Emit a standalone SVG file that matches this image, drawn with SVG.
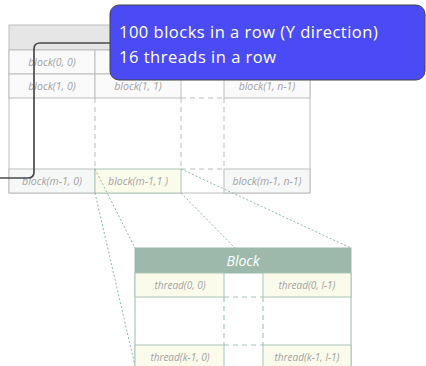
<svg xmlns="http://www.w3.org/2000/svg" width="426" height="366" viewBox="0 0 426 366">
<style>
.g{fill:#fafafa;stroke:#bdbdbd;stroke-width:1}
.gl{stroke:#bdbdbd;stroke-width:1;fill:none}
.gd{stroke:#bdbdbd;stroke-width:1;stroke-dasharray:5,4;fill:none}
.gm{fill:#f6f8f8;stroke:#bdbdbd;stroke-width:1}
.y{fill:#fbfbec;stroke:#a9c6b8;stroke-width:1}
.bl{stroke:#a9c6b8;stroke-width:1.2;fill:none}
.bd{stroke:#a9c6b8;stroke-width:1.2;stroke-dasharray:5,4;fill:none}
.dot{stroke:#8db8ac;stroke-width:1;stroke-dasharray:2,2;fill:none}
.t{font-family:"Open Sans","Liberation Sans",sans-serif;font-style:italic;font-size:10.5px;fill:#a3a3a3;text-anchor:middle}
.th{font-size:10px}
.c{font-family:"Open Sans","Liberation Sans",sans-serif;font-size:16.5px;letter-spacing:0.5px;fill:#ffffff}
</style>
<g id="grid">
<rect x="9" y="25" width="301" height="25" fill="#e6e6e6" stroke="#bdbdbd"/>
<line class="gl" x1="9" y1="50" x2="9" y2="193"/>
<line class="gl" x1="310" y1="50" x2="310" y2="193"/>
<line class="gl" x1="9" y1="193" x2="310" y2="193"/>
<rect class="g" x="9" y="50" width="86" height="24"/>
<rect class="g" x="95" y="50" width="86" height="24"/>
<rect class="g" x="224" y="50" width="86" height="24"/>
<rect class="g" x="9" y="74" width="86" height="24"/>
<rect class="g" x="95" y="74" width="86" height="24"/>
<rect class="g" x="224" y="74" width="86" height="24"/>
<line class="gd" x1="95" y1="98" x2="95" y2="169"/>
<line class="gd" x1="181" y1="98" x2="181" y2="169"/>
<line class="gd" x1="224" y1="98" x2="224" y2="169"/>
<line class="gd" x1="181" y1="98" x2="224" y2="98"/>
<line class="gd" x1="181" y1="169" x2="224" y2="169"/>
<rect class="gm" x="9" y="169" width="86" height="24"/>
<rect class="gm" x="224" y="169" width="86" height="24"/>
<text class="t" x="52" y="66">block(0, 0)</text>
<text class="t" x="52" y="90">block(1, 0)</text>
<text class="t" x="138" y="90">block(1, 1)</text>
<text class="t" x="267" y="90">block(1, n-1)</text>
<text class="t" x="52" y="185">block(m-1, 0)</text>
<text class="t" x="267" y="185">block(m-1, n-1)</text>
</g>
<g id="block-m1-1">
<rect class="y" x="95" y="169" width="86" height="24"/>
<text class="t" x="138" y="185">block(m-1,1 )</text>
</g>
<g id="connectors">
<line class="dot" x1="95" y1="169" x2="135" y2="248"/>
<line class="dot" x1="181" y1="169" x2="351" y2="248"/>
<line class="dot" x1="95" y1="193" x2="135" y2="366"/>
<line class="dot" x1="181" y1="193" x2="351" y2="366"/>
<path d="M110,43 H40 Q34,43 34,49 V172 Q34,178 28,178 H0" fill="none" stroke="#4a4a4a" stroke-width="1.7"/>
</g>
<g id="block">
<rect x="135" y="248" width="216" height="130" fill="#ffffff" stroke="none"/>
<rect x="135" y="248" width="216" height="25" fill="#9cb9ab" stroke="#9cb9ab"/>
<text x="243" y="266" font-family="Open Sans, Liberation Sans, sans-serif" font-style="italic" font-size="14" fill="#ffffff" text-anchor="middle">Block</text>
<line class="bl" x1="135" y1="273" x2="135" y2="370"/>
<line class="bl" x1="351" y1="273" x2="351" y2="370"/>
<rect class="y" x="135" y="273" width="89" height="24"/>
<rect class="y" x="263" y="273" width="88" height="24"/>
<rect class="y" x="135" y="345" width="89" height="24"/>
<rect class="y" x="263" y="345" width="88" height="24"/>
<line class="bd" x1="224" y1="297" x2="224" y2="345"/>
<line class="bd" x1="263" y1="297" x2="263" y2="345"/>
<line class="bd" x1="224" y1="297" x2="263" y2="297"/>
<line class="bd" x1="224" y1="345" x2="263" y2="345"/>
<text class="t th" x="180" y="289">thread(0, 0)</text>
<text class="t th" x="307" y="289">thread(0, l-1)</text>
<text class="t th" x="180" y="361">thread(k-1, 0)</text>
<text class="t th" x="307" y="361">thread(k-1, l-1)</text>
</g>
<g id="callout">
<rect x="110" y="5" width="315" height="75" rx="9" fill="#4b4bf6" stroke="#444" stroke-width="1"/>
<text class="c" x="119" y="38">100 blocks in a row (Y direction)</text>
<text class="c" x="119" y="63">16 threads in a row</text>
</g>
</svg>
